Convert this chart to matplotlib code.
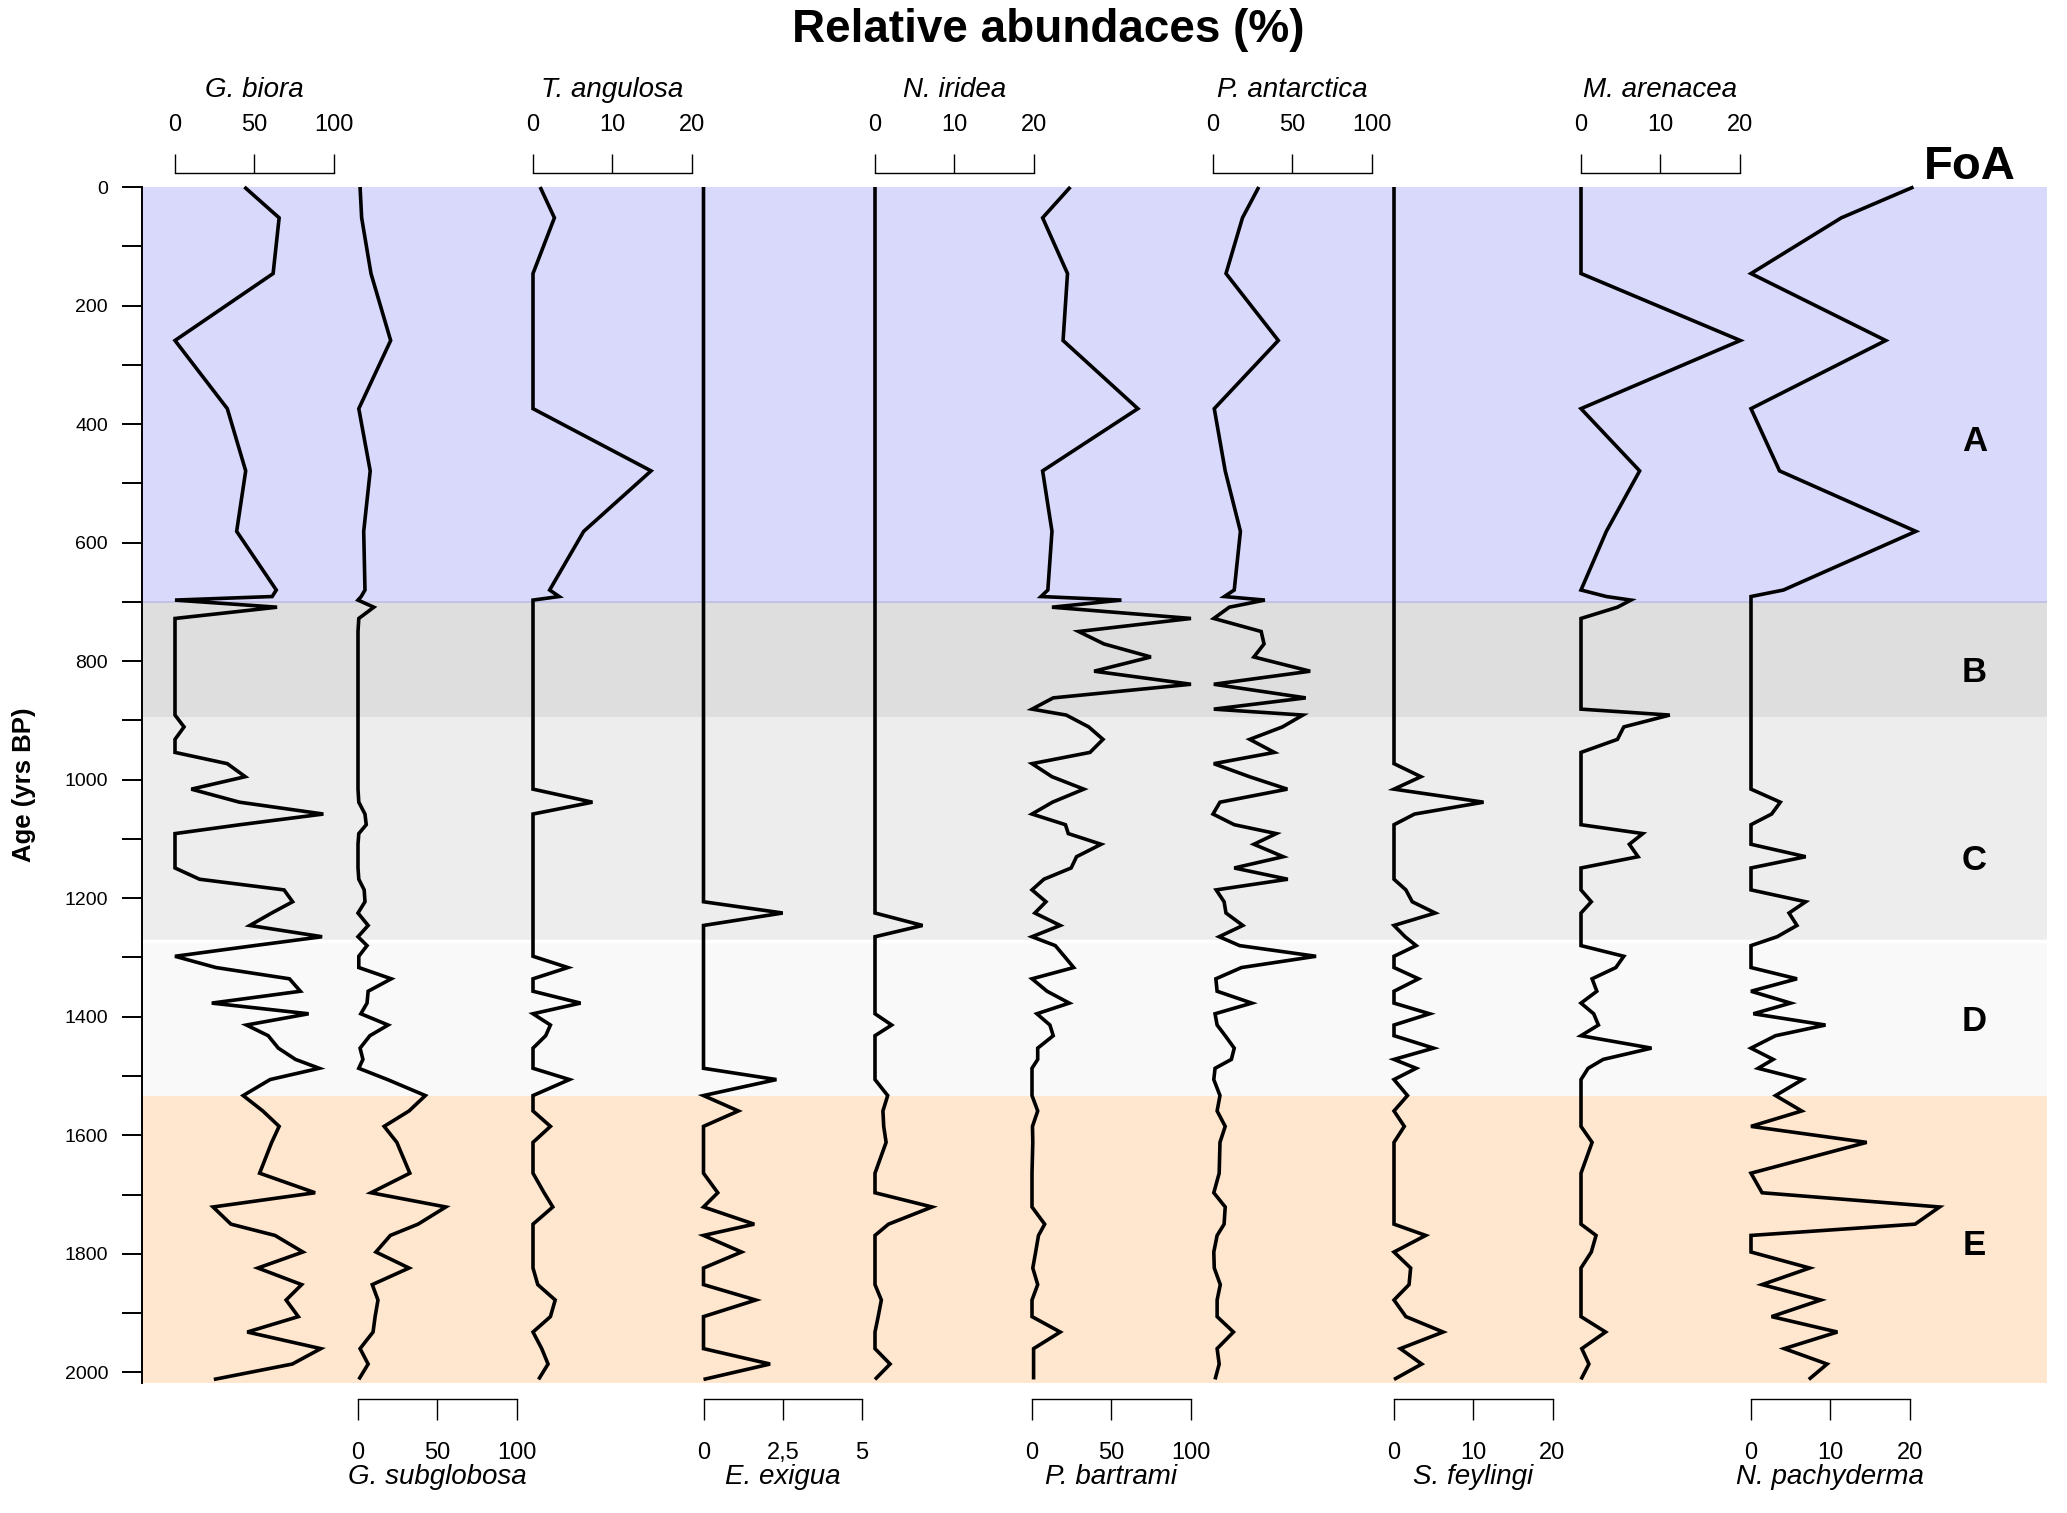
import matplotlib
matplotlib.use("Agg")
import matplotlib.pyplot as plt
from matplotlib.transforms import blended_transform_factory

plt.rcParams['font.family'] = ['Liberation Sans', 'DejaVu Sans']

# ---------------- data ----------------
ages = [0, 52, 146, 259, 374, 479, 581, 680, 691, 697,
        709, 728, 750, 771, 793, 817, 839, 862, 881, 891,
        911, 932, 954, 973, 995, 1016, 1038, 1058, 1076, 1091,
        1109, 1130, 1149, 1168, 1186, 1206, 1225, 1246, 1265, 1280,
        1298, 1317, 1336, 1357, 1377, 1395, 1414, 1432, 1453, 1472,
        1487, 1506, 1533, 1559, 1585, 1612, 1664, 1697, 1721, 1750,
        1769, 1797, 1824, 1852, 1878, 1906, 1932, 1960, 1986, 2012]

g_biora = [43.8, 65.7, 61.9, 0, 33, 44.6, 38.9, 63.9, 61.3, 0,
           64.4, 0, 0, 0, 0, 0, 0, 0, 0, 0,
           5.7, 0, 0, 33, 44.3, 10.3, 40.7, 93.6, 41, 0,
           0, 0, 0, 15.5, 68.8, 74.2, 61, 47.2, 92.8, 50,
           0, 25.8, 72.2, 79.1, 23.2, 84.3, 45.1, 58.8, 65.2, 76,
           91, 60, 43, 55.4, 65.7, 61, 53.4, 88.4, 24, 35.3,
           63.1, 80.7, 52.3, 79.9, 70.1, 77.8, 45.6, 92, 74, 24.5]

g_subglobosa = [1.3, 2.3, 8.2, 20.6, 0.5, 7.7, 3.6, 4.4, 2, 0,
                10, 0.5, 0, 0, 0, 0, 0, 0, 0, 0,
                0, 0, 0, 0, 0, 0, 0.5, 4.4, 5.2, 0.5,
                0, 0, 0, 0.5, 3.9, 4.4, 0, 6.4, 0, 5.7,
                0.5, 0.5, 21, 6.4, 5.7, 1.8, 19, 7.5, 1.3, 3.1,
                0.5, 18.6, 42.5, 32.2, 16.5, 24.5, 32.7, 8.2, 55.4, 37.9,
                20.4, 11.3, 32.2, 9, 12.6, 10.8, 9.5, 1.3, 6.4, 0.5]

t_angulosa = [0.9, 2.7, 0, 0, 0, 14.9, 6.4, 2.1, 3.3, 0,
              0, 0, 0, 0, 0, 0, 0, 0, 0, 0,
              0, 0, 0, 0, 0, 0, 7.5, 0, 0, 0,
              0, 0, 0, 0, 0, 0, 0, 0, 0, 0,
              0, 4.4, 0, 0, 6, 0, 2.2, 1.6, 0, 0,
              0, 4.6, 0, 0, 2.2, 0, 0, 1.4, 2.5, 0,
              0, 0, 0, 0.6, 2.8, 2.2, 0, 1.1, 1.9, 0.7]

e_exigua = [0, 0, 0, 0, 0, 0, 0, 0, 0, 0,
            0, 0, 0, 0, 0, 0, 0, 0, 0, 0,
            0, 0, 0, 0, 0, 0, 0, 0, 0, 0,
            0, 0, 0, 0, 0, 0, 2.5, 0, 0, 0,
            0, 0, 0, 0, 0, 0, 0, 0, 0, 0,
            0, 2.3, 0, 1.1, 0, 0, 0, 0.45, 0, 1.6,
            0, 1.2, 0, 0, 1.65, 0, 0, 0, 2.1, 0]

n_iridea = [0, 0, 0, 0, 0, 0, 0, 0, 0, 0,
            0, 0, 0, 0, 0, 0, 0, 0, 0, 0,
            0, 0, 0, 0, 0, 0, 0, 0, 0, 0,
            0, 0, 0, 0, 0, 0, 0, 6.0, 0, 0,
            0, 0, 0, 0, 0, 0, 2.1, 0, 0, 0,
            0, 0, 1.6, 1.0, 1.1, 1.4, 0, 0, 7.2, 1.7,
            0, 0, 0, 0, 0.8, 0.4, 0, 0, 1.9, 0]

p_bartrami = [24.2, 6.7, 22.4, 19.6, 66.8, 6.7, 12.6, 10, 5.7, 56.4,
              12.6, 100.3, 29.4, 45.4, 75, 39.2, 100.3, 13.4, 0, 21.6,
              35.8, 44.8, 36.6, 0, 12.6, 32.7, 12.9, 0, 21.1, 22.9,
              43.6, 28.1, 24.7, 7.5, 0, 8.8, 1.8, 17.8, 0, 14.7,
              20.4, 26.3, 0, 9.5, 23.5, 3.1, 11.3, 13.4, 3.6, 3.6,
              0, 0, 0, 3.6, 0.3, 0.5, 0, 0, 0, 8,
              4.1, 2.3, 0.5, 3.6, 0, 0, 17.8, 1, 1, 1]

p_antarctica = [28.9, 18.6, 8.2, 41.2, 0.8, 7.7, 17.3, 13.4, 7.2, 32.7,
                10.3, 0.5, 30.4, 32.2, 25.8, 61.3, 0.5, 58.5, 0.5, 56.7,
                43.8, 23.2, 38.7, 0.5, 23, 46.9, 4.4, 0, 13.4, 39.9,
                25.8, 44.3, 13.4, 47.2, 2, 7, 8.2, 18.8, 3.9, 16.8,
                65, 18, 1.8, 2.6, 24.5, 1.3, 2.6, 7.7, 13.4, 11.6,
                1.3, 0.5, 4.4, 2.6, 7.7, 4.4, 3.9, 0.5, 7.7, 7,
                2.6, 0.5, 0.8, 4.6, 2.6, 2.6, 12.9, 2.6, 3.9, 1.3]

s_feylingi = [0, 0, 0, 0, 0, 0, 0, 0, 0, 0,
              0, 0, 0, 0, 0, 0, 0, 0, 0, 0,
              0, 0, 0, 0, 3.4, 0, 11.3, 2.6, 0, 0,
              0, 0, 0, 0, 1.5, 2.3, 5.2, 0, 1.4, 2.8,
              0, 0, 3.1, 0, 0, 4.5, 0, 0, 5, 0,
              2.8, 0, 1.7, 0, 1.3, 0, 0, 0, 0, 0,
              4, 0, 2.1, 1.9, 0, 1.5, 6.2, 0.8, 3.5, 0]

m_arenacea = [0, 0, 0, 20.1, 0, 7.4, 3.2, 0, 3.2, 6.3,
              4.6, 0, 0, 0, 0, 0, 0, 0, 0, 11.2,
              5.4, 4.6, 0, 0, 0, 0, 0, 0, 0, 7.8,
              6.1, 7.2, 0, 0, 0, 1.3, 0, 0, 0, 0,
              5.4, 4.4, 1.4, 2, 0, 1.6, 2.2, 0, 8.9, 2.8,
              0.9, 0, 0, 0, 0, 1.4, 0, 0, 0, 0,
              1.9, 1.3, 0, 0, 0, 0, 3.1, 0.1, 1, 0]

n_pachyderma = [20.5, 11.4, 0, 17, 0, 3.6, 20.8, 4.1, 0, 0,
                0, 0, 0, 0, 0, 0, 0, 0, 0, 0,
                0, 0, 0, 0, 0, 0, 3.7, 2.6, 0, 0,
                0, 6.9, 0, 0, 0, 6.9, 4.8, 5.8, 3.3, 0,
                0, 0, 5.8, 0, 5, 0.3, 9.4, 3.1, 0, 2.8,
                0.9, 6.5, 3.1, 6.4, 0, 14.6, 0, 1.4, 23.8, 20.7,
                0, 0, 7.4, 1.4, 8.8, 2.6, 10.9, 4.2, 9.6, 7.3]

species_names = ["G. biora", "G. subglobosa", "T. angulosa", "E. exigua", "N. iridea",
                 "P. bartrami", "P. antarctica", "S. feylingi", "M. arenacea", "N. pachyderma"]
species_values = [g_biora, g_subglobosa, t_angulosa, e_exigua, n_iridea,
                  p_bartrami, p_antarctica, s_feylingi, m_arenacea, n_pachyderma]
scale_max = [100, 100, 20, 5, 20, 100, 100, 20, 20, 20]
scale_ticks = [[0, 50, 100], [0, 50, 100], [0, 10, 20], [0, 2.5, 5], [0, 10, 20],
               [0, 50, 100], [0, 50, 100], [0, 10, 20], [0, 10, 20], [0, 10, 20]]
scale_ticklabels = [["0", "50", "100"], ["0", "50", "100"], ["0", "10", "20"], ["0", "2,5", "5"],
                    ["0", "10", "20"], ["0", "50", "100"], ["0", "50", "100"], ["0", "10", "20"],
                    ["0", "10", "20"], ["0", "10", "20"]]

zone_labels = ["A", "B", "C", "D", "E"]
zone_bounds = [0, 700, 895, 1273, 1534, 2018]
zone_label_ages = [430, 819, 1137, 1408, 1786]
zone_colors = ["#d9d9fc", "#dedede", "#ededed", "#f9f9f9", "#ffe6cf"]

age_ticks = list(range(0, 2001, 100))
age_ticklabels = [str(v) if v % 200 == 0 else "" for v in age_ticks]

# ---------------- layout ----------------
W, H = 2067, 1513
fig = plt.figure(figsize=(W / 100, H / 100), dpi=100)
TOP_PX, BOT_PX = 187, 1383
AGE_BOTTOM = 2018
zero_px = [175, 358, 533, 703.5, 875, 1032, 1213, 1394, 1581, 1751]
panel_w = 158.5
scale_pos = ["top", "bottom"] * 5


def rect(x0, w):
    return [x0 / W, 1 - BOT_PX / H, w / W, (BOT_PX - TOP_PX) / H]


main = fig.add_axes(rect(142, 2047 - 142))
main.set_xlim(0, 1)
main.set_ylim(AGE_BOTTOM, 0)
for i in range(len(zone_labels)):
    main.axhspan(zone_bounds[i], zone_bounds[i + 1], color=zone_colors[i], lw=0, zorder=0)
main.axhline(zone_bounds[1], color="#bdbde3", lw=1.2, zorder=1)
main.axhline(zone_bounds[3], color="white", lw=2.5, zorder=1)
for s in ["top", "right", "bottom"]:
    main.spines[s].set_visible(False)
main.spines["left"].set_linewidth(1.4)
main.set_xticks([])
main.set_yticks(age_ticks)
main.set_yticklabels(age_ticklabels)
main.tick_params(axis="y", length=14.4, width=1.4, labelsize=14, pad=10, direction="out")

tr = blended_transform_factory(main.transAxes, main.transData)
for lab, a in zip(zone_labels, zone_label_ages):
    main.text(0.962, a, lab, transform=tr, ha="center", va="center",
              fontsize=25, fontweight="bold")

fig.text(24 / W, 1 - 785 / H, "Age (yrs BP)", rotation=90, ha="center", va="center",
         fontsize=18.5, fontweight="bold")
fig.text(1048 / W, 1 - 30 / H, "Relative abundaces (%)", ha="center", va="center",
         fontsize=33, fontweight="bold")
fig.text(1970 / W, 1 - 167 / H, "FoA", ha="center", va="center",
         fontsize=34, fontweight="bold")

for i, name in enumerate(species_names):
    ax = fig.add_axes(rect(zero_px[i], panel_w))
    ax.set_facecolor("none")
    ax.set_xlim(0, scale_max[i])
    ax.set_ylim(AGE_BOTTOM, 0)
    ax.plot(species_values[i], ages, color="black", lw=2.6, clip_on=False,
            solid_joinstyle="miter", solid_capstyle="butt")
    ax.set_yticks([])
    ax.spines["left"].set_visible(False)
    ax.spines["right"].set_visible(False)
    ax.set_xticks(scale_ticks[i])
    ax.set_xticklabels(scale_ticklabels[i])
    cx = (zero_px[i] + panel_w / 2) / W
    if scale_pos[i] == "top":
        ax.spines["bottom"].set_visible(False)
        ax.spines["top"].set_position(("outward", 9.9))
        ax.spines["top"].set_linewidth(1.0)
        ax.xaxis.set_ticks_position("top")
        ax.tick_params(axis="x", direction="out", length=13.9, width=1.0,
                       labelsize=17, pad=13)
        fig.text(cx, 1 - 90 / H, name, ha="center", va="center",
                 fontsize=20, style="italic")
    else:
        ax.spines["top"].set_visible(False)
        ax.spines["bottom"].set_position(("outward", 11.5))
        ax.spines["bottom"].set_linewidth(1.0)
        ax.xaxis.set_ticks_position("bottom")
        ax.tick_params(axis="x", direction="out", length=15, width=1.0,
                       labelsize=17, pad=16)
        fig.text(cx, 1 - 1477 / H, name, ha="center", va="center",
                 fontsize=20, style="italic")

fig.savefig("out.png", dpi=100)
